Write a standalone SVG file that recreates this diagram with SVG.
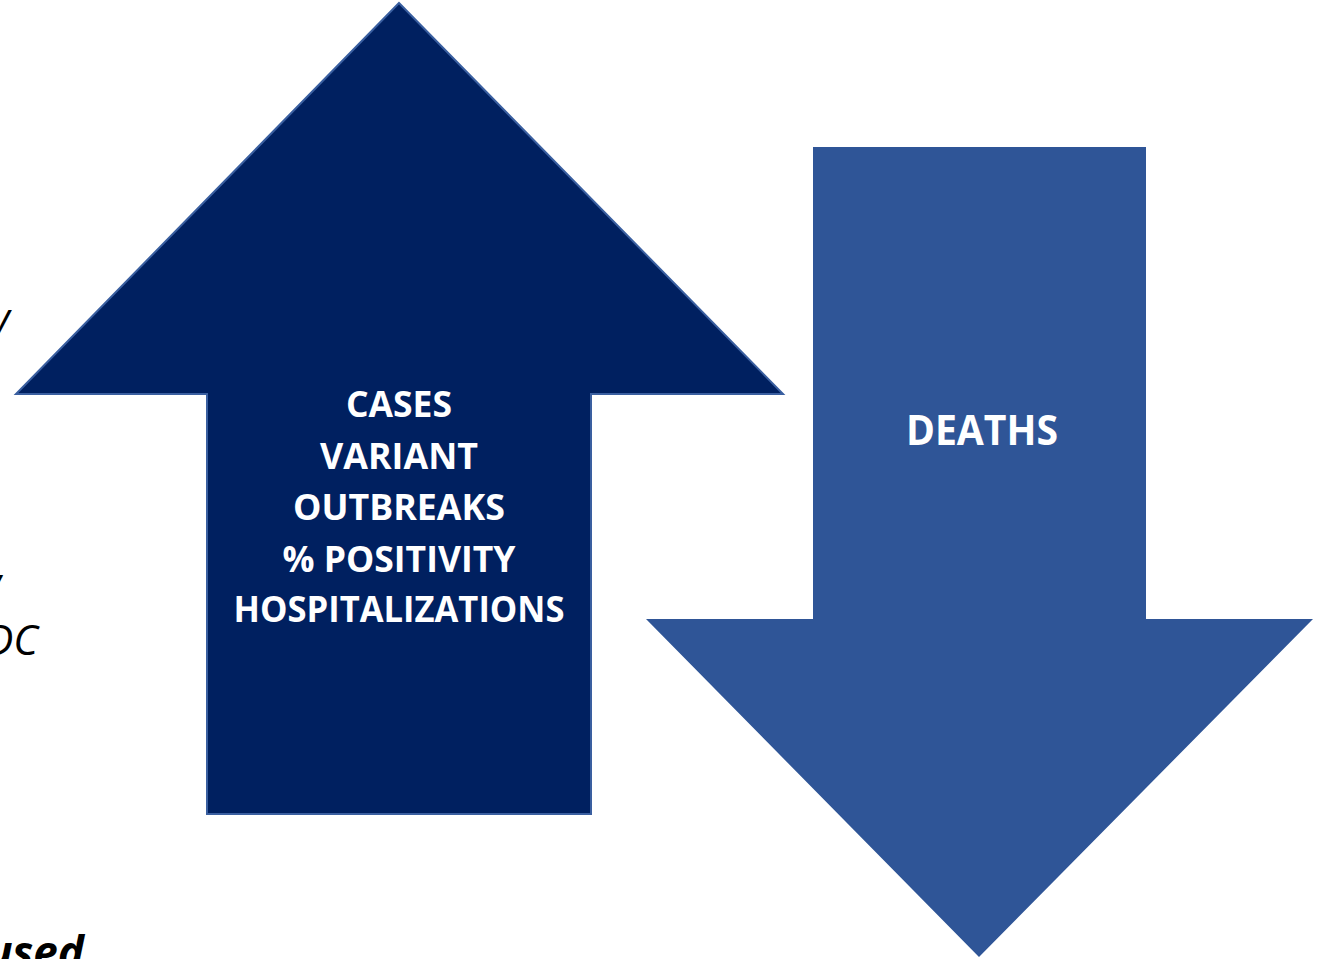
<svg xmlns="http://www.w3.org/2000/svg" width="1327" height="959" viewBox="0 0 1327 959">
<style>
.lbl{font-family:"Open Sans","Liberation Sans",Arial,sans-serif;font-weight:bold;fill:#ffffff;text-anchor:middle}
.frag{font-family:"Open Sans","Liberation Sans",Arial,sans-serif;font-style:italic;fill:#000000;text-anchor:end}
</style>
<rect width="1327" height="959" fill="#ffffff"/>
<g id="left-fragments">
<text class="frag" x="10" y="332" font-size="40">y</text>
<text class="frag" x="7" y="580" font-size="40">,</text>
<text class="frag" x="38" y="655" font-size="42">DC</text>
<text class="frag" x="84" y="968" font-size="44" font-weight="bold">used</text>
</g>
<g id="up-arrow">
<polygon points="399,3 783,394 591,394 591,814 207,814 207,394 16,394" fill="#002060" stroke="#3A5FA0" stroke-width="2"/>
<text class="lbl" x="399" y="417" font-size="35" textLength="106" lengthAdjust="spacingAndGlyphs">CASES</text>
<text class="lbl" x="399" y="469" font-size="35" textLength="158" lengthAdjust="spacingAndGlyphs">VARIANT</text>
<text class="lbl" x="399" y="520" font-size="35" textLength="212" lengthAdjust="spacingAndGlyphs">OUTBREAKS</text>
<text class="lbl" x="399" y="572" font-size="35" textLength="233" lengthAdjust="spacingAndGlyphs">% POSITIVITY</text>
<text class="lbl" x="399" y="622" font-size="35" textLength="331" lengthAdjust="spacingAndGlyphs">HOSPITALIZATIONS</text>
</g>
<g id="down-arrow">
<polygon points="813,147 1146,147 1146,619 1313,619 979,957 646,619 813,619" fill="#2F5597"/>
<text class="lbl" x="982" y="445" font-size="42" textLength="152" lengthAdjust="spacingAndGlyphs">DEATHS</text>
</g>
<g id="connectors"/>
</svg>
